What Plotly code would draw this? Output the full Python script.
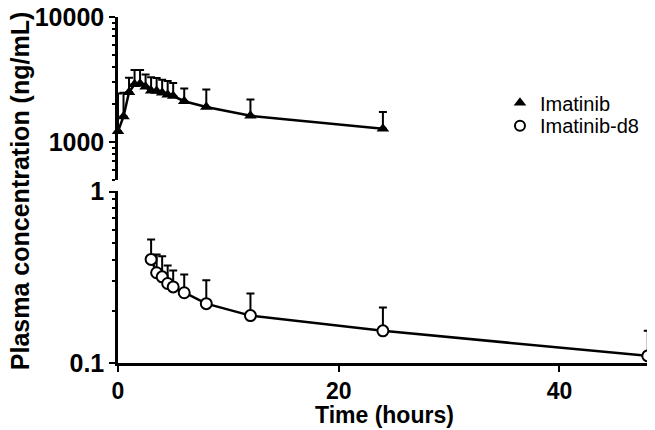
"""Plasma concentration of imatinib and imatinib-d8 over time."""

import plotly.graph_objects as go

time_imatinib = [0, 0.5, 1, 1.5, 2, 2.5, 3, 3.5, 4, 4.5, 5, 6, 8, 12, 24]
imatinib_mean = [1217, 1600, 2500, 2900, 2930, 2765, 2575, 2563, 2485, 2385, 2335, 2120, 1910, 1620, 1277]
imatinib_upper = [2450, 2480, 3265, 3770, 3770, 3470, 3300, 3250, 3150, 3075, 2970, 2685, 2635, 2185, 1740]

time_d8 = [3, 3.5, 4, 4.5, 5, 6, 8, 12, 24, 48]
d8_mean = [0.402, 0.336, 0.318, 0.291, 0.278, 0.257, 0.222, 0.189, 0.154, 0.110]
d8_upper = [0.526, 0.430, 0.420, 0.370, 0.347, 0.328, 0.304, 0.254, 0.211, 0.154]

x_ticks = [0, 20, 40]
top_ticks = [1000, 10000]
top_minor = [500, 600, 700, 800, 900, 2000, 3000, 4000, 5000, 6000, 7000, 8000, 9000]
bottom_ticks = [0.1, 1]
bottom_minor = [0.2, 0.3, 0.4, 0.5, 0.6, 0.7, 0.8, 0.9]

FONT = "Liberation Sans, Arial, sans-serif"
BLACK = "#000000"


def _upper_error(upper, mean):
    return dict(
        type="data",
        symmetric=False,
        array=[u - m for u, m in zip(upper, mean)],
        arrayminus=[0] * len(mean),
        color=BLACK,
        thickness=2,
        width=4,
    )


fig = go.Figure()

fig.add_trace(
    go.Scatter(
        x=time_imatinib,
        y=imatinib_mean,
        yaxis="y2",
        mode="lines+markers",
        line=dict(color=BLACK, width=2.5),
        marker=dict(symbol="triangle-up", size=11, color=BLACK),
        error_y=_upper_error(imatinib_upper, imatinib_mean),
        cliponaxis=False,
        showlegend=False,
    )
)
fig.add_trace(
    go.Scatter(
        x=time_d8,
        y=d8_mean,
        yaxis="y",
        mode="lines+markers",
        line=dict(color=BLACK, width=2.5),
        marker=dict(symbol="circle", size=11, color="white", line=dict(color=BLACK, width=2)),
        error_y=_upper_error(d8_upper, d8_mean),
        cliponaxis=False,
        showlegend=False,
    )
)

# legend entries (marker only, like the original), one legend each so the spacing can be set
fig.add_trace(
    go.Scatter(
        x=[None], y=[None], yaxis="y2", mode="markers", name="Imatinib", legend="legend",
        marker=dict(symbol="triangle-up", size=11, color=BLACK),
    )
)
fig.add_trace(
    go.Scatter(
        x=[None], y=[None], yaxis="y", mode="markers", name="Imatinib-d8", legend="legend2",
        marker=dict(symbol="circle", size=10, color="white", line=dict(color=BLACK, width=2)),
    )
)

axis_common = dict(
    showline=True,
    linecolor=BLACK,
    linewidth=2.5,
    ticks="outside",
    ticklen=6,
    tickwidth=2,
    tickcolor=BLACK,
    showgrid=False,
    zeroline=False,
    automargin=False,
    ticklabeloverflow="allow",
    tickfont=dict(family=FONT, size=25, color=BLACK, weight="bold"),
)

legend_common = dict(
    xanchor="left",
    yanchor="middle",
    bgcolor="rgba(0,0,0,0)",
    font=dict(family=FONT, size=20, color=BLACK),
    itemwidth=30,
)

title_font = dict(family=FONT, size=25, color=BLACK, weight="bold")

# the page body adds an 8px margin, so the figure is 8px smaller than the window
fig.update_layout(
    width=647,
    height=422,
    margin=dict(l=110, r=5, t=9, b=67),
    paper_bgcolor="white",
    plot_bgcolor="white",
    xaxis=dict(
        **dict(axis_common, tickfont=dict(family=FONT, size=23, color=BLACK, weight="bold")),
        range=[0, 48.2],
        tickvals=x_ticks,
        anchor="y",
    ),
    yaxis=dict(
        **axis_common,
        type="log",
        domain=[0, 0.4957],
        range=[-1, 0.0005],
        tickvals=bottom_ticks,
        ticktext=["0.1", "1"],
        minor=dict(tickvals=bottom_minor, ticks="outside", ticklen=3, tickwidth=1.5, tickcolor=BLACK),
        anchor="x",
    ),
    yaxis2=dict(
        **axis_common,
        type="log",
        domain=[0.529, 1],
        range=[2.696, 4.001],
        tickvals=top_ticks,
        ticktext=["1000", "10000"],
        minor=dict(tickvals=top_minor, ticks="outside", ticklen=3, tickwidth=1.5, tickcolor=BLACK),
        anchor="x",
    ),
    legend=dict(**legend_common, x=0.718, y=0.752),
    legend2=dict(**legend_common, x=0.718, y=0.686),
    annotations=[
        dict(
            text="Plasma concentration (ng/mL)",
            xref="paper",
            yref="paper",
            x=-0.184,
            y=0.497,
            xanchor="center",
            yanchor="middle",
            textangle=-90,
            showarrow=False,
            font=dict(title_font, size=25),
        ),
        dict(
            text="Time (hours)",
            xref="paper",
            yref="paper",
            x=0.5,
            y=-0.149,
            xanchor="center",
            yanchor="middle",
            showarrow=False,
            font=dict(title_font, size=23),
        ),
    ],
)

fig.write_html("out.html")
